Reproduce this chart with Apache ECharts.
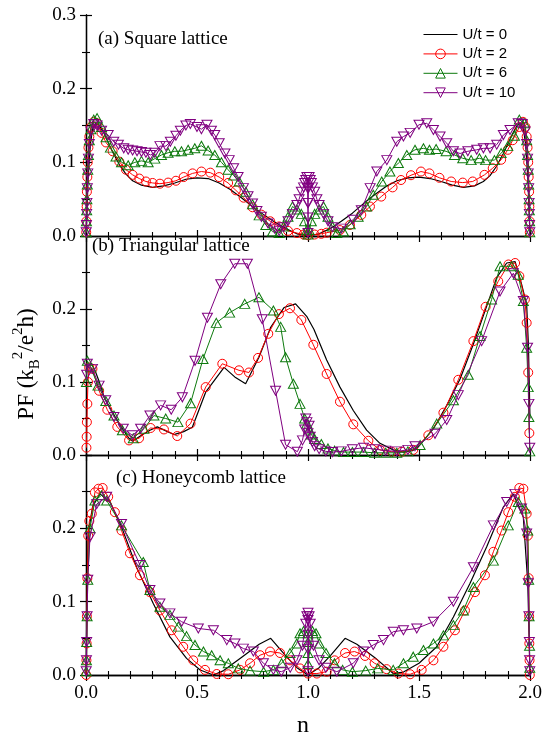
<!DOCTYPE html>
<html>
<head>
<meta charset="utf-8">
<script src="https://cdn.jsdelivr.net/npm/echarts@6/dist/echarts.min.js"></script>
<style>html,body{margin:0;padding:0;background:#fff;}#chart{width:549px;height:737px;}</style>
</head>
<body>
<div id="chart"></div>
<script>
// ---------- DATA ----------
var seriesNames = ['U/t = 0', 'U/t = 2', 'U/t = 6', 'U/t = 10'];
var panelTitles = ['(a) Square lattice', '(b) Triangular lattice', '(c) Honeycomb lattice'];
var xTicks = [0.0, 0.5, 1.0, 1.5, 2.0];
var yTicks = [0.0, 0.1, 0.2, 0.3];

// (a) square lattice
var sqU0 = [[0,0],[0.005,0.04],[0.01,0.08],[0.02,0.125],[0.03,0.146],[0.045,0.153],[0.06,0.15],[0.08,0.14],[0.1,0.127],[0.12,0.114],[0.15,0.097],[0.18,0.084],[0.21,0.075],[0.25,0.069],[0.3,0.066],[0.35,0.068],[0.4,0.072],[0.45,0.077],[0.5,0.079],[0.55,0.078],[0.6,0.072],[0.65,0.063],[0.7,0.052],[0.75,0.040],[0.8,0.029],[0.85,0.019],[0.9,0.010],[0.95,0.003],[1.0,0.0],[1.05,0.003],[1.1,0.010],[1.15,0.020],[1.2,0.031],[1.25,0.044],[1.3,0.056],[1.35,0.067],[1.4,0.075],[1.45,0.079],[1.5,0.080],[1.55,0.078],[1.6,0.074],[1.65,0.069],[1.7,0.066],[1.75,0.068],[1.79,0.074],[1.82,0.082],[1.85,0.095],[1.88,0.112],[1.9,0.125],[1.92,0.138],[1.94,0.149],[1.955,0.153],[1.97,0.146],[1.98,0.125],[1.99,0.08],[1.995,0.04],[2,0]];
var sqU2 = [[0.001,0.005],[0.002,0.02],[0.003,0.04],[0.004,0.06],[0.006,0.08],[0.008,0.1],[0.011,0.12],[0.015,0.135],[0.022,0.148],[0.035,0.155],[0.05,0.153],[0.07,0.14],[0.09,0.127],[0.12,0.115],[0.15,0.101],[0.18,0.09],[0.21,0.083],[0.24,0.078],[0.27,0.074],[0.3,0.072],[0.333,0.071],[0.37,0.0725],[0.405,0.075],[0.44,0.08],[0.48,0.085],[0.52,0.0875],[0.56,0.086],[0.6,0.08],[0.64,0.072],[0.675,0.062],[0.71,0.052],[0.75,0.039],[0.79,0.029],[0.83,0.02],[0.87,0.013],[0.91,0.007],[0.95,0.004],[0.98,0.002],[1.0,0.001],[1.03,0.002],[1.06,0.003],[1.084,0.0045],[1.144,0.008],[1.189,0.015],[1.24,0.0286],[1.279,0.040],[1.33,0.0535],[1.381,0.066],[1.419,0.076],[1.464,0.0825],[1.509,0.0875],[1.547,0.085],[1.592,0.079],[1.645,0.074],[1.697,0.0725],[1.742,0.074],[1.795,0.083],[1.832,0.092],[1.87,0.1035],[1.9,0.117],[1.922,0.13],[1.952,0.148],[1.968,0.155],[1.979,0.148],[1.985,0.135],[1.989,0.12],[1.992,0.1],[1.994,0.08],[1.996,0.06],[1.997,0.04],[1.998,0.02],[1.999,0.005]];
var sqU6 = [[0.001,0.005],[0.002,0.02],[0.003,0.035],[0.004,0.05],[0.006,0.07],[0.008,0.09],[0.011,0.11],[0.015,0.13],[0.022,0.145],[0.035,0.158],[0.05,0.16],[0.07,0.148],[0.09,0.134],[0.11,0.12],[0.135,0.108],[0.16,0.1],[0.19,0.096],[0.22,0.1],[0.25,0.102],[0.28,0.1],[0.31,0.105],[0.34,0.11],[0.37,0.113],[0.4,0.115],[0.43,0.115],[0.46,0.117],[0.49,0.119],[0.52,0.1225],[0.55,0.116],[0.58,0.11],[0.61,0.1],[0.64,0.09],[0.665,0.082],[0.69,0.074],[0.72,0.06],[0.75,0.043],[0.78,0.028],[0.81,0.015],[0.84,0.006],[0.87,0.004],[0.89,0.013],[0.91,0.026],[0.93,0.04],[0.95,0.036],[0.97,0.03],[0.985,0.02],[0.995,0.008],[1.0,0.002],[1.005,0.008],[1.015,0.02],[1.03,0.03],[1.05,0.036],[1.07,0.04],[1.09,0.026],[1.11,0.013],[1.13,0.004],[1.16,0.006],[1.19,0.016],[1.226,0.026],[1.264,0.04],[1.294,0.056],[1.332,0.074],[1.369,0.0875],[1.407,0.099],[1.445,0.11],[1.482,0.117],[1.52,0.119],[1.547,0.117],[1.577,0.118],[1.622,0.115],[1.66,0.11],[1.697,0.1055],[1.735,0.103],[1.772,0.1055],[1.8,0.103],[1.84,0.103],[1.87,0.1125],[1.9,0.122],[1.93,0.136],[1.952,0.158],[1.975,0.153],[1.985,0.13],[1.989,0.11],[1.992,0.09],[1.994,0.07],[1.996,0.05],[1.997,0.035],[1.998,0.02],[1.999,0.005]];
var sqU10 = [[0.001,0.005],[0.002,0.015],[0.003,0.03],[0.004,0.045],[0.006,0.065],[0.008,0.085],[0.011,0.105],[0.015,0.125],[0.022,0.142],[0.035,0.152],[0.05,0.15],[0.07,0.143],[0.1,0.137],[0.125,0.128],[0.146,0.124],[0.17,0.119],[0.19,0.117],[0.21,0.116],[0.23,0.115],[0.25,0.114],[0.27,0.113],[0.29,0.11],[0.31,0.113],[0.333,0.122],[0.36,0.122],[0.38,0.128],[0.405,0.136],[0.425,0.143],[0.45,0.15],[0.47,0.152],[0.5,0.148],[0.52,0.145],[0.545,0.151],[0.565,0.143],[0.58,0.137],[0.6,0.126],[0.626,0.112],[0.645,0.103],[0.665,0.092],[0.685,0.08],[0.709,0.065],[0.73,0.054],[0.75,0.044],[0.77,0.034],[0.79,0.026],[0.82,0.017],[0.85,0.01],[0.87,0.007],[0.89,0.012],[0.91,0.02],[0.93,0.03],[0.95,0.042],[0.96,0.05],[0.97,0.06],[0.98,0.066],[0.985,0.072],[0.99,0.076],[0.995,0.08],[0.998,0.065],[0.999,0.045],[1.0,0.025],[1.0,0.004],[1.001,0.045],[1.002,0.065],[1.005,0.08],[1.01,0.076],[1.015,0.072],[1.02,0.066],[1.03,0.06],[1.04,0.05],[1.05,0.042],[1.07,0.03],[1.09,0.02],[1.11,0.012],[1.15,0.01],[1.203,0.022],[1.24,0.035],[1.28,0.065],[1.31,0.0875],[1.355,0.103],[1.4,0.128],[1.43,0.135],[1.46,0.14],[1.5,0.151],[1.535,0.153],[1.565,0.144],[1.595,0.135],[1.625,0.126],[1.655,0.115],[1.685,0.112],[1.72,0.115],[1.76,0.117],[1.79,0.119],[1.82,0.119],[1.85,0.124],[1.88,0.137],[1.91,0.144],[1.947,0.153],[1.965,0.152],[1.978,0.142],[1.985,0.125],[1.989,0.105],[1.992,0.085],[1.994,0.065],[1.996,0.045],[1.997,0.03],[1.998,0.015],[1.999,0.005]];

// (b) triangular lattice
var triU0 = [[0,0.12],[0.026,0.125],[0.044,0.113],[0.06,0.1],[0.081,0.08],[0.105,0.066],[0.13,0.053],[0.16,0.038],[0.19,0.024],[0.209,0.019],[0.25,0.027],[0.288,0.034],[0.321,0.0385],[0.36,0.033],[0.396,0.028],[0.44,0.032],[0.479,0.038],[0.539,0.086],[0.622,0.12],[0.67,0.107],[0.719,0.0975],[0.779,0.134],[0.832,0.175],[0.892,0.202],[0.944,0.207],[0.994,0.19],[1.027,0.172],[1.084,0.13],[1.144,0.093],[1.204,0.061],[1.264,0.034],[1.324,0.016],[1.384,0.007],[1.43,0.004],[1.47,0.006],[1.497,0.011],[1.565,0.036],[1.625,0.068],[1.685,0.104],[1.745,0.152],[1.805,0.204],[1.85,0.243],[1.895,0.263],[1.933,0.265],[1.962,0.234],[1.985,0.206],[1.993,0.15],[2.0,0.05]];
var triU2 = [[0.002,0.01],[0.003,0.025],[0.004,0.045],[0.006,0.07],[0.009,0.1],[0.014,0.12],[0.029,0.118],[0.059,0.088],[0.096,0.062],[0.141,0.0385],[0.194,0.02],[0.239,0.023],[0.291,0.037],[0.351,0.035],[0.411,0.026],[0.471,0.043],[0.539,0.093],[0.614,0.125],[0.689,0.116],[0.734,0.113],[0.775,0.133],[0.821,0.166],[0.869,0.193],[0.919,0.201],[0.97,0.185],[1.024,0.151],[1.084,0.111],[1.144,0.073],[1.204,0.042],[1.272,0.0195],[1.324,0.007],[1.377,0.0045],[1.422,0.0045],[1.474,0.007],[1.542,0.027],[1.61,0.058],[1.677,0.103],[1.745,0.156],[1.8,0.203],[1.857,0.238],[1.903,0.261],[1.933,0.263],[1.952,0.245],[1.977,0.213],[1.985,0.181],[1.992,0.113],[1.997,0.03]];
var triU6 = [[0.002,0.1],[0.006,0.129],[0.021,0.12],[0.054,0.095],[0.089,0.074],[0.126,0.054],[0.164,0.034],[0.213,0.023],[0.261,0.036],[0.306,0.054],[0.359,0.05],[0.414,0.045],[0.471,0.071],[0.527,0.1315],[0.587,0.181],[0.647,0.195],[0.715,0.207],[0.779,0.216],[0.844,0.198],[0.877,0.1755],[0.899,0.134],[0.934,0.0975],[0.964,0.07],[0.985,0.05],[0.995,0.043],[1.005,0.035],[1.015,0.028],[1.03,0.022],[1.06,0.015],[1.09,0.009],[1.12,0.006],[1.16,0.004],[1.2,0.004],[1.25,0.004],[1.3,0.003],[1.35,0.003],[1.4,0.003],[1.45,0.005],[1.505,0.0136],[1.58,0.043],[1.655,0.075],[1.722,0.11],[1.775,0.163],[1.827,0.213],[1.865,0.2585],[1.917,0.2585],[1.947,0.247],[1.97,0.211],[1.985,0.147],[1.992,0.093],[1.995,0.052],[1.999,0.005]];
var triU10 = [[0.003,0.11],[0.006,0.125],[0.029,0.118],[0.059,0.095],[0.089,0.075],[0.126,0.052],[0.168,0.036],[0.209,0.027],[0.246,0.036],[0.288,0.054],[0.336,0.068],[0.384,0.062],[0.434,0.079],[0.491,0.129],[0.547,0.188],[0.607,0.234],[0.67,0.262],[0.727,0.262],[0.794,0.186],[0.854,0.088],[0.899,0.014],[0.952,0.0045],[0.975,0.02],[0.985,0.035],[0.99,0.05],[0.995,0.045],[1.0,0.03],[1.005,0.04],[1.01,0.025],[1.02,0.018],[1.03,0.012],[1.05,0.008],[1.08,0.005],[1.11,0.004],[1.15,0.005],[1.2,0.008],[1.25,0.01],[1.3,0.008],[1.35,0.006],[1.4,0.005],[1.45,0.007],[1.482,0.012],[1.572,0.029],[1.625,0.048],[1.677,0.082],[1.782,0.156],[1.865,0.224],[1.925,0.249],[1.97,0.211],[1.989,0.147],[1.995,0.07],[1.999,0.01]];

// (c) honeycomb lattice
var honU0 = [[0,0],[0.005,0.12],[0.01,0.193],[0.03,0.23],[0.063,0.247],[0.108,0.236],[0.16,0.202],[0.228,0.147],[0.303,0.0975],[0.378,0.052],[0.453,0.0227],[0.514,0.0068],[0.574,0.0],[0.62,0.006],[0.7,0.024],[0.78,0.042],[0.832,0.05],[0.9,0.026],[0.95,0.01],[1.0,0.0],[1.05,0.01],[1.1,0.026],[1.167,0.05],[1.22,0.042],[1.3,0.024],[1.384,0.002],[1.43,0.004],[1.5,0.016],[1.58,0.0385],[1.655,0.079],[1.73,0.125],[1.805,0.175],[1.88,0.229],[1.925,0.247],[1.97,0.215],[1.99,0.125],[2.0,0.0]];
var honU2 = [[0.001,0.0],[0.002,0.02],[0.003,0.043],[0.004,0.08],[0.006,0.132],[0.01,0.19],[0.015,0.21],[0.026,0.22],[0.04,0.249],[0.056,0.254],[0.075,0.255],[0.1,0.243],[0.13,0.222],[0.16,0.197],[0.198,0.166],[0.243,0.136],[0.288,0.113],[0.333,0.088],[0.386,0.061],[0.438,0.0385],[0.483,0.02],[0.536,0.007],[0.589,0.0014],[0.641,0.001],[0.694,0.007],[0.739,0.016],[0.784,0.027],[0.829,0.032],[0.874,0.03],[0.919,0.02],[0.964,0.009],[1.0,0.002],[1.04,0.002],[1.084,0.0045],[1.12,0.02],[1.167,0.03],[1.21,0.032],[1.257,0.026],[1.3,0.016],[1.354,0.008],[1.407,0.002],[1.46,0.001],[1.512,0.007],[1.565,0.02],[1.61,0.0385],[1.662,0.061],[1.707,0.088],[1.752,0.113],[1.797,0.136],[1.835,0.168],[1.872,0.197],[1.902,0.222],[1.932,0.243],[1.952,0.255],[1.97,0.254],[1.985,0.22],[1.99,0.19],[1.994,0.132],[1.996,0.08],[1.997,0.043],[1.998,0.02],[1.999,0.0]];
var honU6 = [[0.001,0.005],[0.002,0.02],[0.003,0.045],[0.005,0.08],[0.008,0.13],[0.018,0.2],[0.04,0.238],[0.07,0.245],[0.093,0.238],[0.16,0.204],[0.258,0.154],[0.288,0.116],[0.333,0.093],[0.378,0.082],[0.416,0.066],[0.453,0.053],[0.491,0.041],[0.529,0.032],[0.566,0.027],[0.604,0.02],[0.641,0.016],[0.686,0.009],[0.739,0.006],[0.8,0.0045],[0.844,0.007],[0.881,0.016],[0.919,0.03],[0.949,0.043],[0.964,0.057],[0.98,0.06],[1.0,0.057],[1.0,0.045],[1.0,0.03],[1.0,0.015],[1.02,0.06],[1.036,0.057],[1.051,0.043],[1.081,0.03],[1.119,0.016],[1.156,0.007],[1.2,0.0045],[1.26,0.006],[1.314,0.009],[1.384,0.007],[1.43,0.016],[1.474,0.025],[1.52,0.034],[1.565,0.043],[1.61,0.054],[1.655,0.068],[1.7,0.088],[1.745,0.12],[1.835,0.156],[1.902,0.204],[1.947,0.236],[1.977,0.227],[1.99,0.197],[1.994,0.13],[1.996,0.08],[1.998,0.04],[1.999,0.01]];
var honU10 = [[0.001,0.005],[0.002,0.02],[0.003,0.045],[0.005,0.08],[0.008,0.13],[0.018,0.188],[0.048,0.233],[0.093,0.243],[0.16,0.206],[0.243,0.15],[0.288,0.116],[0.333,0.0975],[0.378,0.084],[0.431,0.0726],[0.506,0.0635],[0.574,0.061],[0.634,0.0476],[0.671,0.043],[0.709,0.036],[0.754,0.032],[0.799,0.016],[0.844,0.007],[0.88,0.0045],[0.92,0.01],[0.95,0.02],[0.975,0.04],[0.99,0.07],[0.995,0.08],[1.0,0.085],[1.0,0.075],[1.0,0.055],[1.0,0.035],[1.0,0.005],[1.005,0.08],[1.01,0.07],[1.025,0.04],[1.05,0.02],[1.08,0.01],[1.13,0.0045],[1.204,0.016],[1.25,0.032],[1.294,0.041],[1.34,0.0476],[1.384,0.059],[1.43,0.061],[1.49,0.0635],[1.565,0.0726],[1.655,0.1],[1.745,0.147],[1.835,0.204],[1.895,0.236],[1.932,0.247],[1.962,0.227],[1.985,0.193],[1.992,0.125],[1.995,0.08],[1.997,0.045],[1.998,0.02],[1.999,0.005]];

var panels = [
  [sqU0, sqU2, sqU6, sqU10],
  [triU0, triU2, triU6, triU10],
  [honU0, honU2, honU6, honU10]
];

// ---------- STYLE / LAYOUT ----------
var SERIF = 'Liberation Serif';
var SANS = 'Liberation Sans';
var colors = ['#000000', '#ff0000', '#0d7a0d', '#800080'];
var gridTops = [15, 236, 455];
var gridHeights = [221, 219, 220];

var grids = [], xAxes = [], yAxes = [], series = [];
function fmt(v) { return (Math.round(v * 10) / 10).toFixed(1); }

for (var p = 0; p < 3; p++) {
  grids.push({ left: 86, width: 444, top: gridTops[p], height: gridHeights[p], containLabel: false });
}
var axisLineStyle = { show: true, lineStyle: { color: '#000', width: 1.3 } };
for (var side = 0; side < 2; side++) {
  for (var p = 0; p < 3; p++) {
    xAxes.push({
      type: 'value', gridIndex: p, position: side === 0 ? 'bottom' : 'top',
      min: xTicks[0], max: xTicks[xTicks.length - 1], interval: xTicks[1] - xTicks[0],
      axisLine: axisLineStyle,
      axisTick: { show: true, inside: true, length: 6, lineStyle: { color: '#000', width: 1.2 } },
      minorTick: { show: true, splitNumber: 5, length: 4, lineStyle: { color: '#000', width: 1.1 } },
      splitLine: { show: false },
      axisLabel: { show: side === 0 && p === 2, formatter: fmt, margin: 9,
        fontFamily: SERIF, fontSize: 19, color: '#000' }
    });
  }
}
for (var side = 0; side < 2; side++) {
  for (var p = 0; p < 3; p++) {
    yAxes.push({
      type: 'value', gridIndex: p, position: side === 0 ? 'left' : 'right',
      min: yTicks[0], max: yTicks[yTicks.length - 1], interval: yTicks[1] - yTicks[0],
      axisLine: axisLineStyle,
      axisTick: { show: true, inside: true, length: 6, lineStyle: { color: '#000', width: 1.2 } },
      minorTick: { show: true, splitNumber: 2, length: 4, lineStyle: { color: '#000', width: 1.1 } },
      splitLine: { show: false },
      axisLabel: { show: side === 0, margin: 10, fontFamily: SERIF, fontSize: 19, color: '#000',
        formatter: (function (pp) { return function (v) { if (pp > 0 && v > 0.25) return ''; return fmt(v); }; })(p) }
    });
  }
}

var symbolDefs = [
  { symbol: 'none', size: 0, rotate: 0 },
  { symbol: 'circle', size: 9, rotate: 0 },
  { symbol: 'triangle', size: [10, 9], rotate: 0 },
  { symbol: 'triangle', size: [10, 9], rotate: 180 }
];

for (var p = 0; p < 3; p++) {
  for (var s = 0; s < 4; s++) {
    var def = symbolDefs[s];
    series.push({
      type: 'line', name: seriesNames[s], xAxisIndex: p, yAxisIndex: p,
      data: panels[p][s],
      symbol: def.symbol, symbolSize: def.size, symbolRotate: def.rotate,
      showSymbol: s !== 0,
      lineStyle: { color: colors[s], width: s === 0 ? 1.2 : 1 },
      itemStyle: { color: 'rgba(255,255,255,0)', borderColor: colors[s], borderWidth: 1 },
      emphasis: { disabled: true },
      z: 2 + s,
      animation: false
    });
  }
}

var legendData = seriesNames.map(function (nm, i) {
  if (i === 0) {
    return { name: nm, icon: 'path://M0,0L34,0L34,1.1L0,1.1Z', itemStyle: { color: '#000', borderWidth: 0 } };
  }
  return { name: nm, itemStyle: { color: 'rgba(255,255,255,0)', borderColor: colors[i], borderWidth: 1 },
           lineStyle: { color: colors[i], width: 1 } };
});

var chart = echarts.init(document.getElementById('chart'), null, { renderer: 'canvas' });
chart.setOption({
  animation: false,
  backgroundColor: '#fff',
  grid: grids,
  xAxis: xAxes,
  yAxis: yAxes,
  series: series,
  legend: {
    data: legendData, orient: 'vertical', left: 423, top: 27, padding: 0,
    itemWidth: 34, itemHeight: 12, itemGap: 4.4,
    itemStyle: { borderWidth: 1 },
    lineStyle: { width: 1 },
    textStyle: { fontFamily: SANS, fontSize: 15, color: '#000', lineHeight: 14 },
    selectedMode: false
  },
  graphic: [
    { type: 'text', left: 98, top: 30, style: { text: panelTitles[0], fontFamily: SERIF, fontSize: 19, fill: '#000' } },
    { type: 'text', left: 92, top: 237, style: { text: panelTitles[1], fontFamily: SERIF, fontSize: 19, fill: '#000' } },
    { type: 'text', left: 116, top: 469, style: { text: panelTitles[2], fontFamily: SERIF, fontSize: 19, fill: '#000' } },
    { type: 'text', x: 303, y: 726, style: { text: 'n', fontFamily: SERIF, fontSize: 24, fill: '#000', align: 'center', verticalAlign: 'middle' } },
    { type: 'text', x: 27, y: 364, rotation: Math.PI / 2,
      style: { text: 'PF (k{sub|B}{sup|2}/e{sup|2}h)', fontFamily: SERIF, fontSize: 23, lineHeight: 32, fill: '#000',
        align: 'center', verticalAlign: 'middle',
        rich: {
          sub: { fontFamily: SERIF, fontSize: 15, lineHeight: 15, verticalAlign: 'bottom', fill: '#000' },
          sup: { fontFamily: SERIF, fontSize: 15, lineHeight: 15, verticalAlign: 'top', fill: '#000' }
        } } }
  ]
});
</script>
</body>
</html>
